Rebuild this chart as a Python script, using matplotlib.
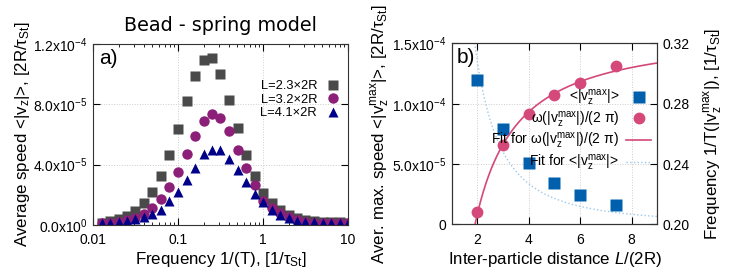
import numpy as np
import matplotlib
matplotlib.use("Agg")
import matplotlib.pyplot as plt
from matplotlib.lines import Line2D

plt.rcParams['font.family'] = ['Liberation Sans', 'DejaVu Sans']
plt.rcParams['mathtext.fontset'] = 'custom'
plt.rcParams['mathtext.rm'] = 'Liberation Sans'
plt.rcParams['mathtext.it'] = 'Liberation Sans:italic'
plt.rcParams['mathtext.bf'] = 'Liberation Sans:bold'

# panel a) frequency scan
freq = [0.0126, 0.0158, 0.02, 0.0251, 0.0316, 0.0398, 0.0501, 0.0631, 0.0794, 0.1,
        0.126, 0.158, 0.2, 0.251, 0.316, 0.398, 0.501, 0.631, 0.794, 1.0,
        1.26, 1.58, 2.0, 2.51, 3.16, 3.98, 5.01, 6.31, 7.94, 10.0]
v_L23 = np.array([0.15, 0.27, 0.40, 0.62, 0.94, 1.47, 2.21, 3.25, 4.65, 6.35,
                  8.2, 9.9, 10.95, 11.05, 10.0, 8.3, 6.4, 4.67, 3.27, 2.15,
                  1.45, 1.0, 0.67, 0.44, 0.33, 0.27, 0.22, 0.2, 0.18, 0.16]) * 1e-5
v_L32 = np.array([0.12, 0.16, 0.19, 0.3, 0.44, 0.73, 1.1, 1.73, 2.5, 3.5,
                  4.7, 5.93, 6.9, 7.33, 7.07, 6.2, 5.0, 3.78, 2.67, 1.62,
                  1.1, 0.82, 0.55, 0.33, 0.22, 0.16, 0.13, 0.11, 0.1, 0.1]) * 1e-5
v_L41 = np.array([0.12, 0.16, 0.22, 0.29, 0.38, 0.51, 0.73, 1.0, 1.56, 2.18,
                  2.95, 3.78, 4.73, 4.95, 4.95, 4.38, 3.67, 2.84, 2.07, 1.5,
                  1.0, 0.67, 0.44, 0.27, 0.22, 0.18, 0.16, 0.15, 0.15, 0.14]) * 1e-5
labels_a = ['L=2.3×2R', 'L=3.2×2R', 'L=4.1×2R']

# panel b) distance scan
dist = [2, 3, 4, 5, 6, 7.4]
vmax = np.array([12.0, 7.92, 5.06, 3.4, 2.43, 1.6]) * 1e-5
fmax = [0.208, 0.253, 0.273, 0.2857, 0.2939, 0.305]
fit_v_amp = 5.4e-4   # fit <|v|> ~ amp * L^-pow
fit_v_pow = 2.0
fit_f_pow = 1.2      # fit f ~ a + b * L^-pow

grey = '#4a4a4a'
purple = '#8c1f78'
navy = '#000088'
blue = '#0060ad'
pink = '#d4487a'
lightblue = '#9cc9ea'
LAB = 12.2

fig = plt.figure(figsize=(7.47, 2.76), dpi=100)
ax = fig.add_axes([0.1245, 0.1848, 0.3414, 0.6558])
axb = fig.add_axes([0.6047, 0.1866, 0.2752, 0.6558])

def gp_style(a):
    a.tick_params(which='both', direction='in', top=True, right=True, labelsize=10)
    a.tick_params(which='major', length=5, pad=4)
    a.tick_params(axis='x', which='major', pad=6)
    a.tick_params(which='minor', length=2.5)
    for s in a.spines.values():
        s.set_color('#333333')
        s.set_linewidth(0.8)
    a.grid(True, which='major', color='#cccccc', linestyle=':', linewidth=0.7)

# ---- panel a
ax.plot(freq, v_L23, 's', color=grey, ms=7, mec='none', label=labels_a[0])
ax.plot(freq, v_L32, 'o', color=purple, ms=7.5, mec='none', label=labels_a[1])
ax.plot(freq, v_L41, '^', color=navy, ms=7, mec='none', label=labels_a[2])
ax.set_xscale('log')
ax.set_xlim(0.01, 10)
ax.set_ylim(0, 1.2e-4)
ax.set_xticks([0.01, 0.1, 1, 10], ['0.01', '0.1', '1', '10'])
ax.set_yticks([0, 4e-5, 8e-5, 1.2e-4],
              ['0.0x10$^{0}$', '4.0x10$^{-5}$', '8.0x10$^{-5}$', '1.2x10$^{-4}$'])
gp_style(ax)
ax.set_xlabel('Frequency 1/(T), [1/τ$_{\\mathrm{St}}$]', fontsize=LAB, labelpad=2)
ax.set_ylabel('Average speed <|v$_{\\mathrm{z}}$|>, [2R/τ$_{\\mathrm{St}}$]', fontsize=LAB, labelpad=1)
ax.set_title('Bead - spring model', fontsize=13.8, family='DejaVu Sans', pad=9)
ax.text(0.025, 0.975, 'a)', transform=ax.transAxes, fontsize=15, va='top')
ax.legend(loc='upper right', bbox_to_anchor=(1.0, 0.85), frameon=False, markerfirst=False,
          fontsize=9.3, handlelength=1.0, handletextpad=0.7, labelspacing=0.12, borderaxespad=0.3)

# ---- panel b
axb2 = axb.twinx()
axb.plot(dist, vmax, 's', color=blue, ms=8.5, mec='none', zorder=3)
xs = np.linspace(1.0, 9.0, 300)
axb.plot(xs, fit_v_amp * xs ** (-fit_v_pow), ':', color=lightblue, lw=1.0)
axb.set_xlim(1, 9)
axb.set_ylim(0, 1.5e-4)
axb.set_xticks([2, 4, 6, 8])
axb.set_yticks([0, 5e-5, 1e-4, 1.5e-4],
               ['0', '5.0x10$^{-5}$', '1.0x10$^{-4}$', '1.5x10$^{-4}$'])
gp_style(axb)
axb.tick_params(right=False)

d = np.array(dist, dtype=float)
A = np.vstack([np.ones_like(d), d ** (-fit_f_pow)]).T
coef, *_ = np.linalg.lstsq(A, np.array(fmax), rcond=None)
axb2.plot(xs, coef[0] + coef[1] * xs ** (-fit_f_pow), '-', color=pink, lw=1.2)
axb2.plot(dist, fmax, 'o', color=pink, ms=8.5, mec='none')
axb2.set_ylim(0.20, 0.32)
axb2.set_yticks([0.20, 0.24, 0.28, 0.32], ['0.20', '0.24', '0.28', '0.32'])
axb2.tick_params(direction='in', length=5, labelsize=10, pad=4)
for s in axb2.spines.values():
    s.set_color('#333333')
    s.set_linewidth(0.8)

axb.set_xlabel('Inter-particle distance $\\mathit{L}$/(2R)', fontsize=LAB, labelpad=2)
axb.set_ylabel('Aver. max. speed <|v$_{\\mathrm{z}}^{\\mathrm{max}}$|>, [2R/τ$_{\\mathrm{St}}$]',
               fontsize=LAB, labelpad=0)
axb2.set_ylabel('Frequency 1/T(|v$_{\\mathrm{z}}^{\\mathrm{max}}$|), [1/τ$_{\\mathrm{St}}$]',
                fontsize=LAB, labelpad=9)
axb2.text(0.025, 0.975, 'b)', transform=axb2.transAxes, fontsize=15, va='top')

handles = [
    Line2D([], [], marker='s', ls='none', color=blue, ms=8.5, mec='none'),
    Line2D([], [], marker='o', ls='none', color=pink, ms=8.5, mec='none'),
    Line2D([], [], ls='-', color=pink, lw=1.2),
    Line2D([], [], ls=':', color=lightblue, lw=1.0),
]
names = ['<|v$_{\\mathrm{z}}^{\\mathrm{max}}$|>',
         'ω(|v$_{\\mathrm{z}}^{\\mathrm{max}}$|)/(2 π)',
         'Fit for ω(|v$_{\\mathrm{z}}^{\\mathrm{max}}$|)/(2 π)',
         'Fit for <|v$_{\\mathrm{z}}^{\\mathrm{max}}$|>']
axb2.legend(handles, names, loc='center right', bbox_to_anchor=(1.0, 0.52), frameon=False,
            markerfirst=False, fontsize=10, handlelength=1.8, handletextpad=0.5,
            labelspacing=0.12, borderaxespad=0.05)

fig.savefig('out.png', dpi=100)
